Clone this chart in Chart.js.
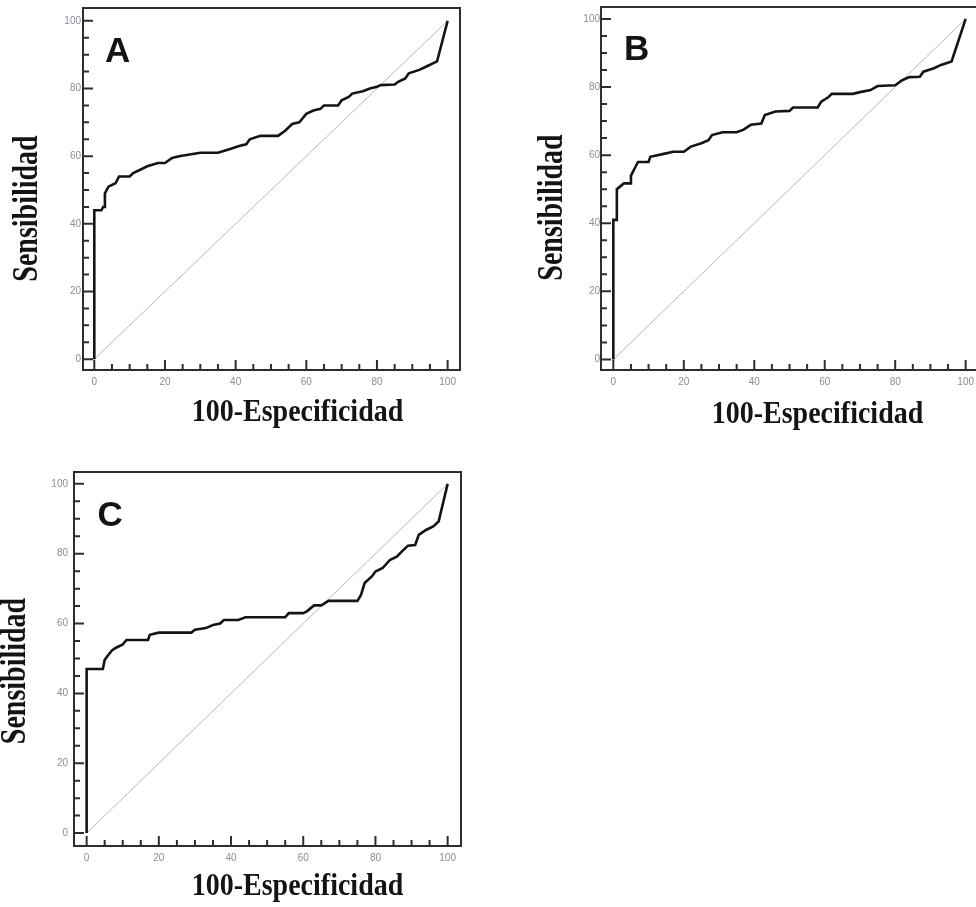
<!DOCTYPE html>
<html>
<head>
<meta charset="utf-8">
<script src="https://cdn.jsdelivr.net/npm/chart.js@4.4.1/dist/chart.umd.min.js"></script>
<style>
  html, body { margin: 0; padding: 0; background: #fff; overflow: hidden; }
  #wrap { position: relative; width: 976px; height: 907px; overflow: hidden; }
  canvas { position: absolute; }
</style>
</head>
<body>
<div id="wrap">
  <canvas id="roc-a" width="488" height="450" style="left:0;top:0"></canvas>
  <canvas id="roc-b" width="500" height="450" style="left:488px;top:0"></canvas>
  <canvas id="roc-c" width="488" height="452" style="left:0;top:455px"></canvas>
</div>
<script>
// ROC curves: x = 100-Especificidad, y = Sensibilidad
const fprA = [0, 0, 2, 2.5, 3, 3, 4, 6, 7, 10, 11, 13, 15, 18, 20, 22, 24, 27, 30, 35, 38, 41, 43, 44, 47, 52, 54, 56, 58, 60, 62, 64, 65, 69, 70, 72, 73, 76, 78, 80, 81, 85, 86, 88, 89, 92, 94, 97, 100];
const tprA = [0, 44, 44, 45, 45, 49, 51, 52, 54, 54, 55, 56, 57, 58, 58, 59.5, 60, 60.5, 61, 61, 62, 63, 63.5, 65, 66, 66, 67.5, 69.5, 70, 72.5, 73.5, 74, 75, 75, 76.5, 77.5, 78.5, 79.2, 80, 80.5, 81, 81.2, 82, 83, 84.5, 85.5, 86.5, 88, 100];

const fprB = [0, 0, 1, 1, 3, 5, 5, 6, 7, 10, 10.5, 14, 17, 20, 22, 25, 27, 28, 31, 35, 37, 39, 42, 43, 46, 50, 51, 58, 59, 61, 62, 68, 70, 73, 75, 80, 82, 84, 87, 88, 91, 93, 96, 100];
const tprB = [0, 41, 41, 50, 51.7, 51.7, 54, 56, 58, 58, 59.5, 60.3, 61, 61, 62.5, 63.5, 64.4, 65.9, 66.7, 66.7, 67.5, 68.9, 69.3, 71.8, 72.8, 73, 74, 74, 75.7, 77, 78, 78, 78.5, 79.1, 80.3, 80.5, 82, 82.9, 83, 84.5, 85.5, 86.5, 87.5, 100];

const fprC = [0, 0, 4.5, 5, 6, 7, 8, 10, 11, 17, 17.5, 20, 29, 30, 33, 35, 37, 38, 42, 44, 55, 56, 60, 61, 63, 65, 67, 75, 76, 77, 79, 80, 82, 84, 86, 87, 89, 91, 92, 94, 96, 97.5, 100];
const tprC = [0, 47, 47, 49.6, 51, 52.3, 53, 54, 55.3, 55.3, 56.8, 57.4, 57.4, 58.2, 58.7, 59.6, 60, 61, 61, 61.8, 61.8, 63, 63, 63.5, 65.2, 65.2, 66.5, 66.5, 68.2, 71.6, 73.5, 74.9, 75.9, 78.2, 79.2, 80.3, 82.3, 82.5, 85.4, 86.8, 87.8, 89.2, 100];

// reference (chance) line
const diagX = [0, 100];
const diagY = [0, 100];

const tickLabels = [0, 20, 40, 60, 80, 100];
const tickMarks = [0, 5, 10, 15, 20, 25, 30, 35, 40, 45, 50, 55, 60, 65, 70, 75, 80, 85, 90, 95, 100];

const xTitle = "100-Especificidad";
const yTitle = "Sensibilidad";

const tickColor = "#8c8c96";
const inkColor = "#141414";

const rocFrame = {
  id: "rocFrame",
  beforeDatasetsDraw(chart, args, o) {
    const { ctx, chartArea: a, scales: { x, y } } = chart;
    ctx.save();
    ctx.strokeStyle = "#2e2e2e";
    ctx.lineWidth = 2;
    ctx.strokeRect(a.left, a.top, a.right - a.left, a.bottom - a.top);
    tickMarks.forEach(v => {
      const len = tickLabels.includes(v) ? 10 : 6;
      const px = x.getPixelForValue(v);
      const py = y.getPixelForValue(v);
      ctx.beginPath();
      ctx.moveTo(px, a.bottom);
      ctx.lineTo(px, a.bottom - len);
      ctx.moveTo(a.left, py);
      ctx.lineTo(a.left + len, py);
      ctx.stroke();
    });
    ctx.restore();
  },
  afterDraw(chart, args, o) {
    const { ctx, chartArea: a, scales: { x, y } } = chart;
    ctx.save();
    ctx.fillStyle = inkColor;

    // panel letter
    ctx.font = "bold 35px 'Liberation Sans'";
    ctx.textAlign = "left";
    ctx.textBaseline = "alphabetic";
    ctx.fillText(o.letter, x.getPixelForValue(3), y.getPixelForValue(87.8));

    // axis titles (tall, condensed serif)
    ctx.font = "bold 28px 'Liberation Serif'";
    ctx.textAlign = "center";
    ctx.save();
    ctx.translate(a.left + o.xTitlePos[0], a.bottom + o.xTitlePos[1]);
    ctx.scale(1, 1.15);
    ctx.fillText(xTitle, 0, 0);
    ctx.restore();

    ctx.save();
    ctx.translate(a.left + o.yTitlePos[0], a.top + o.yTitlePos[1]);
    ctx.rotate(-Math.PI / 2);
    ctx.scale(1, 1.25);
    ctx.fillText(yTitle, 0, 0);
    ctx.restore();

    ctx.restore();
  }
};

function rocPanel(id, fpr, tpr, p) {
  const ctx = document.getElementById(id).getContext("2d");
  const tickFont = { family: "'Liberation Sans', Arial, sans-serif", size: 10 };
  return new Chart(ctx, {
    type: "scatter",
    data: {
      datasets: [
        {
          label: "ROC",
          data: fpr.map((v, i) => ({ x: v, y: tpr[i] })),
          showLine: true,
          borderColor: inkColor,
          borderWidth: 2.6,
          pointRadius: 0,
          order: 0
        },
        {
          label: "Referencia",
          data: diagX.map((v, i) => ({ x: v, y: diagY[i] })),
          showLine: true,
          borderColor: "#b8b8b8",
          borderWidth: 1,
          pointRadius: 0,
          order: 1
        }
      ]
    },
    options: {
      responsive: false,
      animation: false,
      devicePixelRatio: 1,
      layout: { padding: p.pad },
      plugins: {
        legend: { display: false },
        tooltip: { enabled: false },
        rocFrame: p
      },
      scales: {
        x: {
          type: "linear",
          position: "bottom",
          min: p.xRange[0],
          max: p.xRange[1],
          afterBuildTicks: s => { s.ticks = tickLabels.map(v => ({ value: v })); },
          afterFit: s => { s.height = p.xh; },
          grid: { display: false, drawTicks: false },
          border: { display: false },
          ticks: { color: tickColor, font: tickFont, padding: p.xTickPad, maxRotation: 0 }
        },
        y: {
          type: "linear",
          position: "left",
          min: p.yRange[0],
          max: p.yRange[1],
          afterBuildTicks: s => { s.ticks = tickLabels.map(v => ({ value: v })); },
          afterFit: s => { s.width = p.yw; },
          grid: { display: false, drawTicks: false },
          border: { display: false },
          ticks: { color: tickColor, font: tickFont, padding: p.yTickPad }
        }
      }
    },
    plugins: [rocFrame]
  });
}

rocPanel("roc-a", fprA, tprA, {
  letter: "A",
  pad: { left: 0, right: 28, top: 6, bottom: 0 },
  yw: 83, xh: 80,
  xRange: [-3.2, 103.5], yRange: [-3.2, 103.8],
  xTickPad: 6, yTickPad: 2,
  xTitlePos: [214.5, 51], yTitlePos: [-46, 200.5]
});

rocPanel("roc-b", fprB, tprB, {
  letter: "B",
  pad: { left: 0, right: 10, top: 7, bottom: 0 },
  yw: 113, xh: 80,
  xRange: [-3.5, 103.5], yRange: [-3.1, 103.5],
  xTickPad: 6, yTickPad: 1,
  xTitlePos: [216.5, 52.7], yTitlePos: [-39, 200.5]
});

rocPanel("roc-c", fprC, tprC, {
  letter: "C",
  pad: { left: 0, right: 27, top: 17, bottom: 0 },
  yw: 74, xh: 61,
  xRange: [-3.5, 103.7], yRange: [-3.7, 103.4],
  xTickPad: 6, yTickPad: 6,
  xTitlePos: [223.5, 49], yTitlePos: [-49, 199]
});
</script>
</body>
</html>
